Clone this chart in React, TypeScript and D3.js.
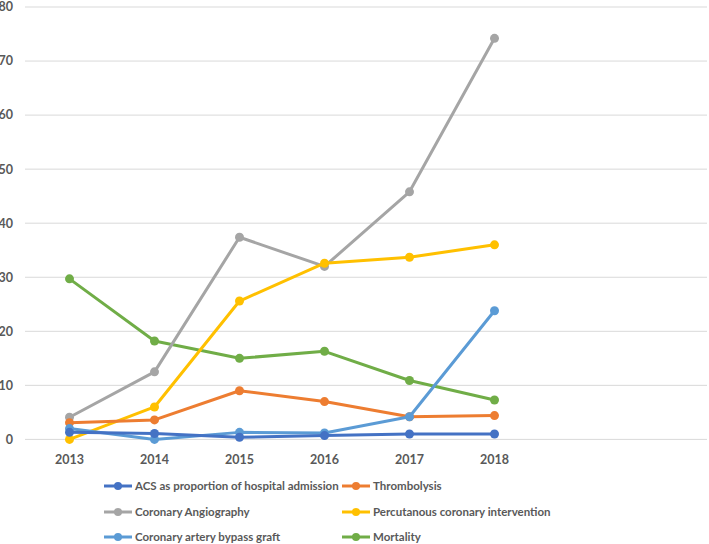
import React from "react";
import * as d3 from "d3";

const years = ["2013", "2014", "2015", "2016", "2017", "2018"];
const slots = ["2013", "2014", "2015", "2016", "2017", "2018", "s7", "s8"];
const yTicks = [0, 10, 20, 30, 40, 50, 60, 70, 80];

const acs = [1.3, 1.1, 0.4, 0.7, 1.0, 1.0];
const thrombolysis = [3.1, 3.6, 9.0, 7.0, 4.2, 4.4];
const angiography = [4.1, 12.5, 37.4, 32.0, 45.8, 74.2];
const pci = [0.0, 6.0, 25.6, 32.6, 33.7, 36.0];
const cabg = [2.0, 0.0, 1.3, 1.2, 4.2, 23.8];
const mortality = [29.7, 18.2, 15.0, 16.3, 10.9, 7.3];

const seriesNames = [
  "ACS as proportion of hospital admission",
  "Thrombolysis",
  "Coronary Angiography",
  "Percutanous coronary intervention",
  "Coronary artery bypass graft",
  "Mortality",
];
const seriesValues = [acs, thrombolysis, angiography, pci, cabg, mortality];
const seriesColors = ["#4472C4", "#ED7D31", "#A5A5A5", "#FFC000", "#5B9BD5", "#70AD47"];
// drawing order (front-most last)
const drawOrder = [5, 2, 3, 1, 4, 0];

export default function App() {
  const W = 709;
  const H = 544;
  const x = d3.scaleBand<string>().domain(slots).range([27, 707]);
  const y = d3.scaleLinear().domain([0, 80]).range([439.4, 7]);
  const cx = (i: number) => (x(years[i]) as number) + x.bandwidth() / 2;
  const line = d3
    .line<number>()
    .x((_, i) => cx(i))
    .y((d) => y(d));
  const font = "Lato, 'Open Sans', sans-serif";

  const legendPos = [
    { x: 104, y: 486 },
    { x: 342, y: 486 },
    { x: 104, y: 512 },
    { x: 342, y: 512 },
    { x: 104, y: 537 },
    { x: 342, y: 537 },
  ];

  return (
    <svg
      width={W}
      height={H}
      style={{ position: "absolute", left: 0, top: 0, background: "#fff" }}
      fontFamily={font}
    >
      <rect width={W} height={H} fill="#fff" />
      {yTicks.map((t) => (
        <g key={t}>
          <line x1={25} x2={707} y1={y(t)} y2={y(t)} stroke="#D9D9D9" strokeWidth={1} />
          <text
            x={13}
            y={y(t)}
            dy="0.35em"
            textAnchor="end"
            fontSize={12.5}
            fontWeight="bold"
            fill="#595959"
          >
            {t}
          </text>
        </g>
      ))}
      {years.map((yr, i) => (
        <text
          key={yr}
          x={cx(i)}
          y={464}
          textAnchor="middle"
          fontSize={12.5}
          fontWeight="bold"
          fill="#595959"
        >
          {yr}
        </text>
      ))}
      {drawOrder.map((si) => (
        <g key={si}>
          <path
            d={line(seriesValues[si]) || ""}
            fill="none"
            stroke={seriesColors[si]}
            strokeWidth={3}
            strokeLinejoin="round"
            strokeLinecap="round"
          />
          {seriesValues[si].map((v, i) => (
            <circle key={i} cx={cx(i)} cy={y(v)} r={4.5} fill={seriesColors[si]} />
          ))}
        </g>
      ))}
      {seriesNames.map((name, si) => {
        const p = legendPos[si];
        return (
          <g key={name}>
            <line
              x1={p.x}
              x2={p.x + 28}
              y1={p.y}
              y2={p.y}
              stroke={seriesColors[si]}
              strokeWidth={3}
            />
            <circle cx={p.x + 14} cy={p.y} r={4} fill={seriesColors[si]} />
            <text
              x={p.x + 31}
              y={p.y}
              dy="0.35em"
              fontSize={11.5}
              fontWeight="bold"
              fill="#595959"
            >
              {name}
            </text>
          </g>
        );
      })}
    </svg>
  );
}
